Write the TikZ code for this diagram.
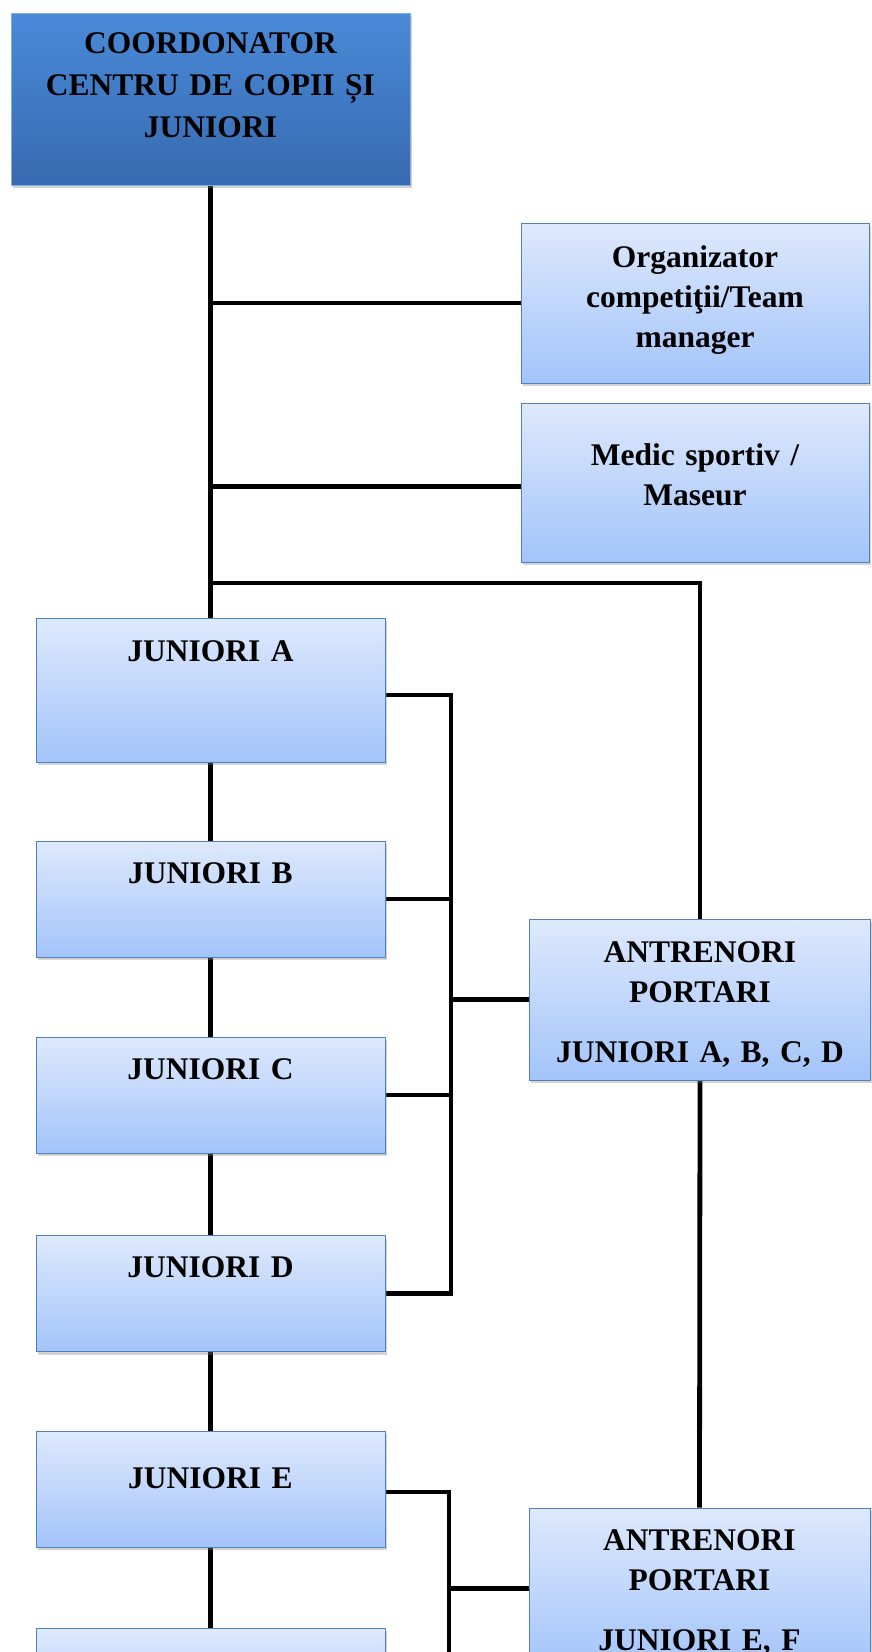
\documentclass[tikz,border=0pt]{standalone}
\usepackage{fontspec}
\setmainfont{Liberation Serif}
\usepackage{tikz}
\usetikzlibrary{shadows}
\usetikzlibrary{backgrounds}
\definecolor{rim}{RGB}{79,129,189}
\definecolor{lite}{RGB}{222,233,252}
\definecolor{deep}{RGB}{163,196,250}
\definecolor{headtop}{RGB}{74,138,216}
\definecolor{headbot}{RGB}{55,106,176}
\tikzset{b/.style={draw=rim,line width=1pt,inner sep=0pt,align=center,font=\fontsize{31.5}{40}\selectfont\bfseries,drop shadow={shadow xshift=1.5pt,shadow yshift=-3pt,opacity=0.35}}}
\tikzset{lb/.style={b,top color=lite,bottom color=deep}}
\tikzset{j/.style={lb,minimum width=349pt,text width=330pt,text height=42pt,text depth=74pt}}
\tikzset{w/.style={line width=4.8pt,line join=miter}}

\begin{document}
\begin{tikzpicture}[x=1pt,y=-1pt]
        \useasboundingbox (0,0) rectangle (871,1652);
        \node[b,top color=headtop,bottom color=headbot,draw=headtop!70!white,minimum width=399pt,text width=380pt,text height=40pt,text depth=132pt,font=\fontsize{31.5}{42}\selectfont\bfseries] (C) at (210.5,99) {COORDONATOR\\CENTRU DE COPII ȘI\\JUNIORI};
        \node[lb,minimum width=348pt,text width=320pt,text height=44pt,text depth=116pt] (O) at (695,303) {Organizator\\competiţii/Team\\manager};
        \node[lb,minimum width=348pt,text width=320pt,text height=62pt,text depth=97pt] (M) at (695,482.5) {Medic sportiv /\\Maseur};
        \node[j,text height=43pt,text depth=101pt] (JA) at (210.5,690) {JUNIORI A};
        \node[j] (JB) at (210.5,899) {JUNIORI B};
        \node[j] (JC) at (210.5,1095) {JUNIORI C};
        \node[j] (JD) at (210.5,1293.5) {JUNIORI D};
        \node[j,text height=57pt,text depth=59pt] (JE) at (210.5,1489) {JUNIORI E};
        \node[j,text height=57pt,text depth=59pt] (JF) at (210.5,1686) {};
        \node[lb,minimum width=341pt,text width=330pt,text height=43pt,text depth=118pt] (PA) at (700,999.5) {ANTRENORI\\PORTARI\\[20pt]JUNIORI A, B, C, D};
        \node[lb,minimum width=341pt,text width=330pt,text height=42pt,text depth=119pt] (PE) at (699.5,1588.5) {ANTRENORI\\PORTARI\\[20pt]JUNIORI E, F};
        \begin{scope}[on background layer]
          \coordinate (S) at (C.south |- 0,583);
          \coordinate (BA) at (PA.west -| 451,0);
          \coordinate (BE) at (PE.west -| 449,0);
          \draw[w] (C.south) -- (JA.north);
          \draw[w] (JA.south) -- (JB.north);
          \draw[w] (JB.south) -- (JC.north);
          \draw[w] (JC.south) -- (JD.north);
          \draw[w] (JD.south) -- (JE.north);
          \draw[w] (JE.south) -- (JF.north);
          \draw[w] (O.west) -- (O.west -| C.south);
          \draw[w] ([yshift=-4pt]M.west) -- ([yshift=-4pt]M.west -| C.south);
          \draw[w] (S) -| (PA.north);
          \draw[w] (PA.south) -- (PE.north);
          \draw[w] ([yshift=-5pt]JA.east) -| (BA) |- (JD.east);
          \draw[w] (JB.east) -- (JB.east -| BA);
          \draw[w] (JC.east) -- (JC.east -| BA);
          \draw[w] (BA) -- (PA.west);
          \draw[w] ([yshift=-3pt]JE.east) -| (BE) |- (JF.east);
          \draw[w] (BE) -- (PE.west);
        \end{scope}
\end{tikzpicture}
\end{document}
